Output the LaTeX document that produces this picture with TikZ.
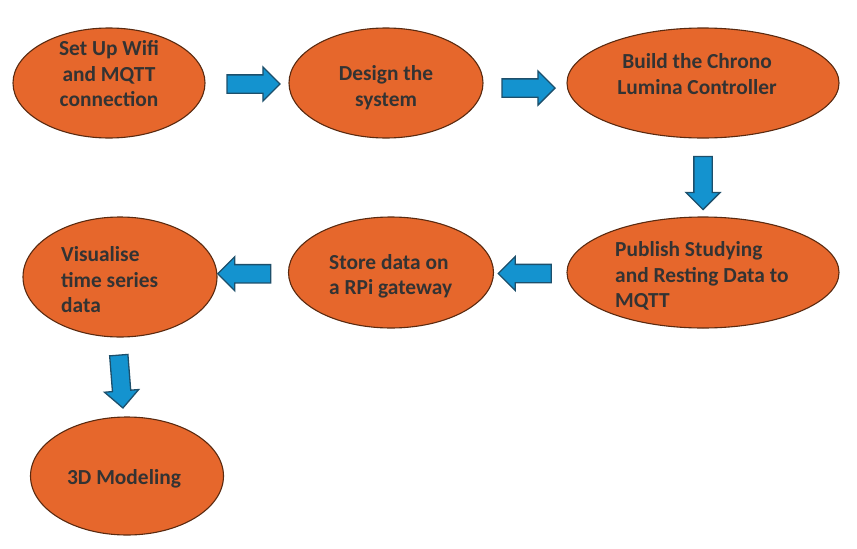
\documentclass[tikz,border=0pt]{standalone}
\usepackage{fontspec}
\setsansfont{Carlito}
\usepackage{tikz}
\usetikzlibrary{shapes.geometric, shapes.arrows}
\usetikzlibrary{calc}
\definecolor{stagefill}{HTML}{E6672C}
\definecolor{stageline}{HTML}{5A2A10}
\definecolor{flowfill}{HTML}{1493CF}
\definecolor{flowline}{HTML}{1D4F6B}
\definecolor{captext}{HTML}{333333}

\begin{document}
\begin{tikzpicture}[
    x=1pt, y=-1pt,
    stage/.style={ellipse, draw=stageline, fill=stagefill, line width=1.1pt, inner sep=0pt},
    caption/.style={font=\sffamily\bfseries\fontsize{21.4}{25.5}\selectfont, text=captext, inner sep=0pt},
    flow/.style={single arrow, draw=flowline, fill=flowfill, line width=1.3pt,
        inner xsep=0pt, inner ysep=8.5pt, minimum height=53pt, single arrow head extend=8pt}
    ]
        \useasboundingbox (0,0) rectangle (857,549);

        % first row
        \node[stage, minimum width=192pt, minimum height=110pt] (e1) at (109, 83) {};
        \node[stage, minimum width=194pt, minimum height=110pt] (e2) at (386, 83) {};
        \node[stage, minimum width=272pt, minimum height=110pt] (e3) at (703, 83) {};
        \node[caption, align=center] (t1) at (109, 74) {Set Up Wifi\\and MQTT\\connection};
        \node[caption, align=center] (t2) at (386, 87.5) {Design the\\system};
        \node[caption, align=center] (t3) at (697, 74) {Build the Chrono\\Lumina Controller};

        % second row
        \node[stage, minimum width=272pt, minimum height=111pt] (e4) at (703, 272.5) {};
        \node[stage, minimum width=205pt, minimum height=111pt] (e5) at (391, 272.5) {};
        \node[stage, minimum width=194pt, minimum height=120pt] (e6) at (120, 277) {};
        \node[caption, align=left, anchor=west] (t4) at (615, 276) {Publish Studying\\and Resting Data to\\MQTT};
        \node[caption, align=left, anchor=west] (t5) at (329, 276.5) {Store data on\\a RPi gateway};
        \node[caption, align=left, anchor=west] (t6) at (61, 280) {Visualise\\time series\\data};

        % last one
        \node[stage, minimum width=193pt, minimum height=118pt] (e7) at (127, 476) {};
        \node[caption] (t7) at (124, 479) {3D Modeling};

        % block arrows
        \node[flow] (a1) at ($(e1.east)!0.5!(e2.west)+(2,1)$) {};
        \node[flow] (a2) at ($(e2.east)!0.5!(e3.west)+(-1,5)$) {};
        \node[flow, rotate=-90] (a3) at ($(e3.south)!0.5!(e4.north)+(0,1)$) {};
        \node[flow, rotate=180] (a4) at ($(e4.west)!0.5!(e5.east)+(-1,1)$) {};
        \node[flow, rotate=180] (a5) at ($(e5.west)!0.5!(e6.east)+(-4,-1)$) {};
        \node[flow, rotate=-85.5] (a6) at ($(e6.south)!0.5!(e7.north)+(-3,0)$) {};
\end{tikzpicture}
\end{document}
